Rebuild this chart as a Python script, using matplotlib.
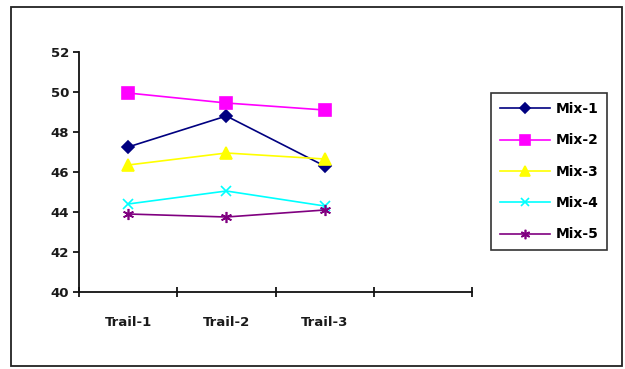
import matplotlib
matplotlib.use("Agg")
import matplotlib.pyplot as plt
from matplotlib.patches import Rectangle

categories = ["Trail-1", "Trail-2", "Trail-3"]
series_names = ["Mix-1", "Mix-2", "Mix-3", "Mix-4", "Mix-5"]
mix1 = [47.25, 48.8, 46.3]
mix2 = [49.95, 49.45, 49.1]
mix3 = [46.35, 46.95, 46.65]
mix4 = [44.4, 45.05, 44.3]
mix5 = [43.9, 43.75, 44.1]
y_ticks = [40, 42, 44, 46, 48, 50, 52]

colors = ["#000080", "#FF00FF", "#FFFF00", "#00FFFF", "#800080"]
markers = ["D", "s", "^", "x", (6, 2, 0)]
msizes = [6, 8, 8, 7, 8]

plt.rcParams['font.family'] = ['DejaVu Sans']
fig = plt.figure(figsize=(6.25, 3.69), dpi=100)
fig.patches.append(Rectangle((11/625, 1-366/369), 611/625, 359/369, transform=fig.transFigure,
                             fill=False, edgecolor="#222222", linewidth=1.3))

ax = fig.add_axes([79/625, 1-292/369, 393/625, 240/369])
xs = [i + 0.5 for i in range(len(categories))]
for vals, name, c, m, ms in zip([mix1, mix2, mix3, mix4, mix5], series_names, colors, markers, msizes):
    ax.plot(xs, vals, color=c, marker=m, markersize=ms, linewidth=1.2, label=name,
            markeredgecolor=c, markerfacecolor=c, markeredgewidth=1.2)

ax.set_xlim(0, 4)
ax.set_ylim(40, 52)
ax.set_yticks(y_ticks)
ax.set_yticklabels([str(v) for v in y_ticks], fontsize=9.5, fontweight='bold', color="#1a1a1a")
ax.set_xticks([0, 1, 2, 3, 4])
ax.set_xticklabels([])
ax.set_xticks(xs, minor=True)
ax.set_xticklabels(categories, minor=True, fontsize=9.5, fontweight='bold', color="#1a1a1a")
ax.tick_params(axis='x', which='minor', length=0, pad=17)
ax.tick_params(axis='x', which='major', direction='inout', length=7, width=1.2)
ax.tick_params(axis='y', which='major', direction='out', length=4, width=1.2, pad=3)
for s in ['top', 'right']:
    ax.spines[s].set_visible(False)
for s in ['left', 'bottom']:
    ax.spines[s].set_linewidth(1.3)
    ax.spines[s].set_color("#111111")

leg = fig.legend(loc='upper left', bbox_to_anchor=(491/625, 1-93/369), frameon=True,
                 fancybox=False, shadow=False, prop={'weight': 'bold', 'size': 10},
                 handlelength=3.6, labelspacing=1.25, borderpad=0.65, handletextpad=0.4,
                 markerscale=0.85, borderaxespad=0)
leg.get_frame().set_edgecolor("black")
leg.get_frame().set_linewidth(1.2)

fig.savefig("out.png", dpi=100)
